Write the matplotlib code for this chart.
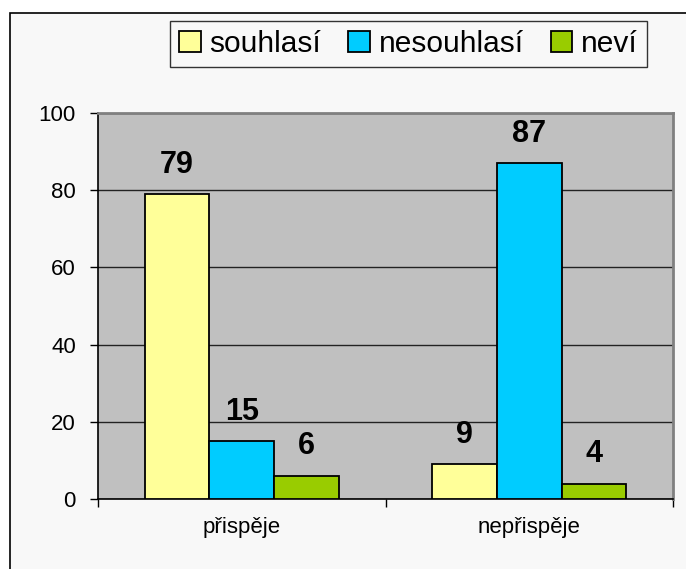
import matplotlib
matplotlib.use("Agg")
import matplotlib.pyplot as plt
from matplotlib.patches import Rectangle
import numpy as np

plt.rcParams['font.family'] = ['Liberation Sans', 'DejaVu Sans']

categories = ["přispěje", "nepřispěje"]
series_names = ["souhlasí", "nesouhlasí", "neví"]
souhlasi = [79, 9]
nesouhlasi = [15, 87]
nevi = [6, 4]
series_values = [souhlasi, nesouhlasi, nevi]
colors = ["#FFFF99", "#00CCFF", "#99CC00"]
yticks = [0, 20, 40, 60, 80, 100]

fig = plt.figure(figsize=(6.86, 5.69), dpi=100)
fig.patch.set_facecolor("white")
# outer chart frame
frame = Rectangle((10/686, -0.05), 1.0, 1 - 13/569 + 0.05,
                  transform=fig.transFigure, facecolor="#F8F8F8",
                  edgecolor="black", linewidth=1.2, zorder=-10)
fig.patches.append(frame)

ax = fig.add_axes([98/686, 1 - 499/569, 575/686, 386/569])
ax.set_facecolor("#C0C0C0")

x = np.arange(len(categories))
w = 0.225
handles = []
for i, (name, vals, c) in enumerate(zip(series_names, series_values, colors)):
    bars = ax.bar(x + (i - 1) * w, vals, width=w, color=c, edgecolor="black",
                  linewidth=1.3, zorder=3, label=name)
    handles.append(bars)
    for xi, v in zip(x + (i - 1) * w, vals):
        ax.annotate(str(v), (xi, v), xytext=(0, 15.5), textcoords="offset points",
                    ha="center", va="baseline", fontsize=22, fontweight="bold")

ax.set_xlim(-0.5, 1.5)
ax.set_ylim(0, 100)
ax.set_yticks(yticks)
ax.yaxis.grid(True, color="#222222", linewidth=1.0, zorder=1)
ax.set_axisbelow(True)
ax.tick_params(axis="y", direction="out", length=6, width=1, pad=10, labelsize=16)

ax.set_xticks([-0.5, 0.5, 1.5])
ax.set_xticklabels([])
ax.tick_params(axis="x", which="major", direction="out", length=6, width=1)
ax.set_xticks(x, minor=True)
ax.set_xticklabels(categories, minor=True)
ax.tick_params(axis="x", which="minor", length=0, pad=13, labelsize=16)

for s in ["top", "right"]:
    ax.spines[s].set_color("#808080")
    ax.spines[s].set_linewidth(2)
for s in ["left", "bottom"]:
    ax.spines[s].set_color("black")
    ax.spines[s].set_linewidth(1.2)

leg = fig.legend(handles=handles, labels=series_names, loc="center",
                 bbox_to_anchor=(408.5/686, 1 - 44/569), ncol=3, fontsize=21.5,
                 frameon=True, fancybox=False, edgecolor="#333333",
                 facecolor="#F8F8F8", framealpha=1, handlelength=0.72,
                 handleheight=0.72, handletextpad=0.3, columnspacing=0.9,
                 borderpad=0.3, borderaxespad=0)
leg.get_frame().set_linewidth(1.0)

fig.savefig("out.png", dpi=100)
